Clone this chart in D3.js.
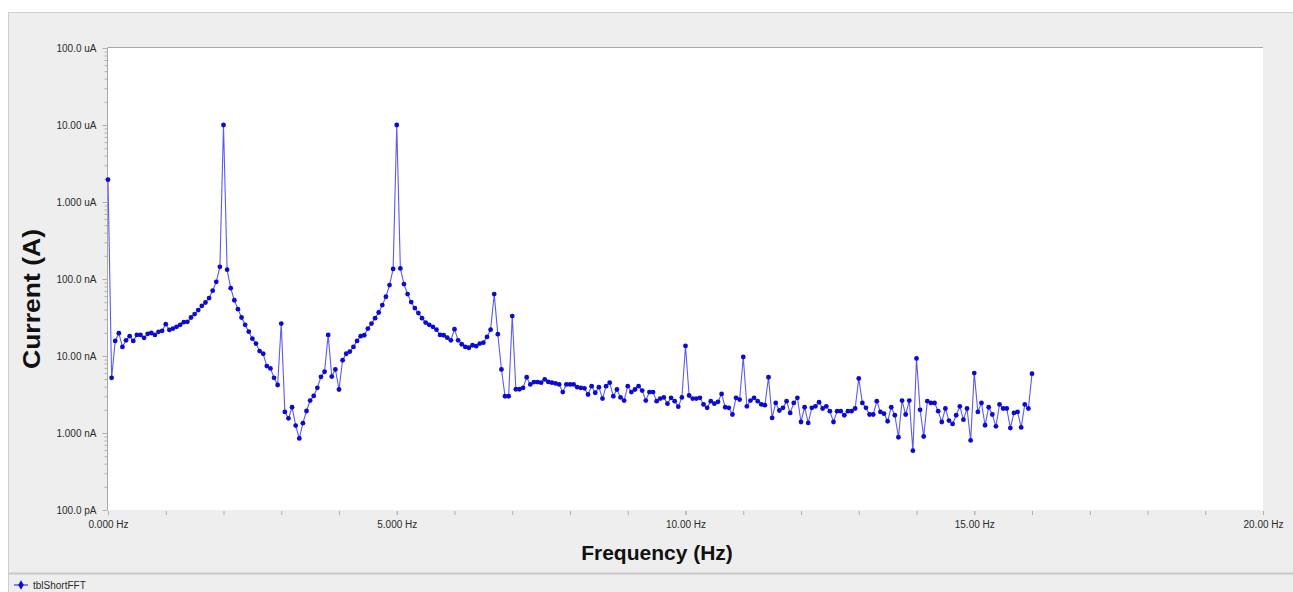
<!DOCTYPE html>
<html lang="en">
  <head>
    <meta charset="UTF-8">
    <script src="https://d3js.org/d3.v7.min.js"></script>
    <style>
      html,body{
        margin: 0px;
        background: #fff;
      }
      text{ font-family: "Liberation Sans", Arial, sans-serif; }
    </style>
  </head>
  <body>
    <svg id="chart" width="1293" height="592"></svg>
  </body>
</html>
<script>
// FFT bin width (Hz) -- one point per bin from 0 Hz
var binHz = 0.0625;

// current per bin, in nA
var current0to4 = [1950, 5.2, 15.7, 19.8, 13.1, 16.0, 18.1, 15.7, 18.8, 18.8, 17.2, 19.4, 19.9, 18.8, 20.6, 21.2,
  25.9, 21.8, 22.7, 23.9, 25.4, 27.5, 27.8, 31.6, 35, 39.5, 44.8, 49.5, 56.6, 70.5, 92, 144,
  10000, 132, 76, 53, 40.6, 31.6, 25.4, 20.7, 16.8, 14.5, 11.6, 10.7, 7.4, 6.9, 5.2, 4.2,
  26.4, 1.88, 1.55, 2.16, 1.25, 0.85, 1.34, 1.93, 2.64, 3.03, 3.86, 5.37, 6.24, 18.8, 5.4, 6.7];
var current4to8 = [3.67, 8.8, 10.7, 11.4, 13.1, 15.7, 18.1, 18.6, 22.7, 26.4, 31, 36.7, 45.8, 58.8, 83.4, 135,
  10000, 137, 86, 63.7, 50.1, 41.9, 36.1, 31, 27.2, 25.4, 23.9, 22, 18.8, 18.6, 17.3, 16,
  22.3, 16, 14.2, 13.1, 12.8, 13.8, 13.4, 14.5, 14.9, 17.7, 22, 63.7, 19.2, 6.7, 3.0, 3.0,
  33, 3.7, 3.7, 3.86, 5.3, 4.27, 4.58, 4.58, 4.5, 4.96, 4.6, 4.5, 4.4, 4.27, 3.4, 4.27];
var current8to12 = [4.27, 4.27, 3.94, 3.86, 3.8, 3.16, 4.06, 3.33, 3.94, 2.8, 4.06, 4.5, 3.0, 3.67, 2.9, 2.64,
  4.06, 3.4, 3.67, 4.06, 3.56, 2.64, 3.4, 3.4, 2.59, 2.8, 2.9, 2.4, 2.86, 2.59, 2.2, 2.9,
  13.5, 3.07, 2.8, 2.8, 2.86, 2.35, 2.12, 2.59, 2.4, 2.54, 3.22, 2.16, 2.12, 1.74, 2.86, 2.72,
  9.7, 2.22, 2.64, 2.86, 2.59, 2.35, 2.3, 5.3, 1.57, 2.46, 1.96, 2.12, 2.59, 1.82, 2.46, 2.86];
var current12to16 = [1.39, 2.16, 1.35, 2.12, 2.22, 2.51, 2.08, 2.22, 1.92, 1.39, 1.92, 1.92, 1.7, 1.92, 1.92, 2.08,
  5.1, 2.46, 2.12, 1.74, 1.74, 2.59, 1.88, 1.78, 1.42, 2.16, 1.7, 0.88, 2.64, 1.74, 2.64, 0.59,
  9.3, 2.0, 0.9, 2.59, 2.46, 2.46, 1.92, 1.39, 2.08, 1.45, 1.31, 1.7, 2.22, 1.49, 2.08, 0.8,
  6.0, 1.88, 2.46, 1.26, 2.16, 1.74, 1.22, 2.35, 2.08, 2.08, 1.16, 1.82, 1.88, 1.18, 2.35, 2.08,
  5.9];

// axis ticks
var yTicks = [100000, 10000, 1000, 100, 10, 1, 0.1];
var yTickLabels = ["100.0 uA", "10.00 uA", "1.000 uA", "100.0 nA", "10.00 nA", "1.000 nA", "100.0 pA"];
var xTicks = [0, 5, 10, 15, 20];
var xTickLabels = ["0.000 Hz", "5.000 Hz", "10.00 Hz", "15.00 Hz", "20.00 Hz"];
var seriesName = "tblShortFFT";

var values = current0to4.concat(current4to8, current8to12, current12to16);
var data = values.map(function(v, i){ return {f: i * binHz, v: v}; });

var svg = d3.select("#chart");
var W = 1293, H = 592;
var plotL = 108, plotR = 1263, plotT = 48, plotB = 510;

// panel background + frame
svg.append("rect").attr("x", 8.5).attr("y", 12.5).attr("width", W).attr("height", H)
  .attr("fill", "#eeeeee").attr("stroke", "#cfcfcf");
svg.append("line").attr("x1", 8).attr("x2", W).attr("y1", 573.5).attr("y2", 573.5)
  .attr("stroke", "#c8c8c8").attr("stroke-width", 2);

// plot area
svg.append("rect").attr("x", plotL).attr("y", plotT).attr("width", plotR - plotL).attr("height", plotB - plotT)
  .attr("fill", "#fff");
svg.append("path").attr("d", "M" + (plotL - 0.5) + "," + plotB + "V" + (plotT - 0.5) + "H" + plotR)
  .attr("fill", "none").attr("stroke", "#a8a8a8");

var x = d3.scaleLinear().domain([0, 20]).range([plotL, plotR]);
var y = d3.scaleLog().domain([0.1, 100000]).range([plotB, plotT]);

// y axis: majors + log minors
var yMinor = [];
yTicks.slice(1).forEach(function(d){ for (var k = 2; k < 10; k++) yMinor.push(d * k); });
svg.append("g").attr("transform", "translate(" + (plotL - 0.5) + ",0)")
  .call(d3.axisLeft(y).tickValues(yMinor).tickSize(3).tickFormat(""));
svg.append("g").attr("transform", "translate(" + (plotL - 0.5) + ",0)")
  .call(d3.axisLeft(y).tickValues(yTicks).tickSize(5).tickPadding(6)
    .tickFormat(function(d, i){ return yTickLabels[i]; }));

// x axis: majors + 1 Hz minors
svg.append("g").attr("transform", "translate(0," + (plotB + 1) + ")")
  .call(d3.axisBottom(x).tickValues(d3.range(1, 20)).tickSize(4).tickFormat(""));
svg.append("g").attr("transform", "translate(0," + (plotB + 1) + ")")
  .call(d3.axisBottom(x).tickValues(xTicks).tickSize(4).tickPadding(6)
    .tickFormat(function(d, i){ return xTickLabels[i]; }));

svg.selectAll(".domain").remove();
svg.selectAll(".tick line").attr("stroke", "#b0b0b0");
svg.selectAll(".tick text").attr("fill", "#2a2a2a").style("font-size", "10px")
  .style("font-family", "'Liberation Sans', Arial, sans-serif");

// axis titles
svg.append("text").attr("transform", "translate(40,299) rotate(-90)")
  .attr("text-anchor", "middle").style("font-size", "24px").style("font-weight", "bold")
  .attr("textLength", 140).attr("lengthAdjust", "spacingAndGlyphs")
  .attr("fill", "#111").text("Current (A)");
svg.append("text").attr("x", 657).attr("y", 560)
  .attr("text-anchor", "middle").style("font-size", "21px").style("font-weight", "bold")
  .attr("fill", "#111").text("Frequency (Hz)");

// series
var line = d3.line().x(function(d){ return x(d.f); }).y(function(d){ return y(d.v); });
svg.append("path").datum(data).attr("d", line)
  .attr("fill", "none").attr("stroke", "#5b5bf2").attr("stroke-width", 1.1);
svg.append("g").selectAll("circle").data(data).enter().append("circle")
  .attr("cx", function(d){ return x(d.f); })
  .attr("cy", function(d){ return y(d.v); })
  .attr("r", 2.4).attr("fill", "#0a0ad0");

// legend
var lg = svg.append("g").attr("transform", "translate(14,585)");
lg.append("line").attr("x1", 0).attr("x2", 14).attr("stroke", "#5b5bf2").attr("stroke-width", 1.5);
lg.append("path").attr("d", d3.symbol(d3.symbolDiamond, 26)()).attr("transform", "translate(7,0)")
  .attr("fill", "#0a0ad0");
lg.append("text").attr("x", 19).attr("y", 3.5).style("font-size", "10px").attr("fill", "#2a2a2a").text(seriesName);
</script>
